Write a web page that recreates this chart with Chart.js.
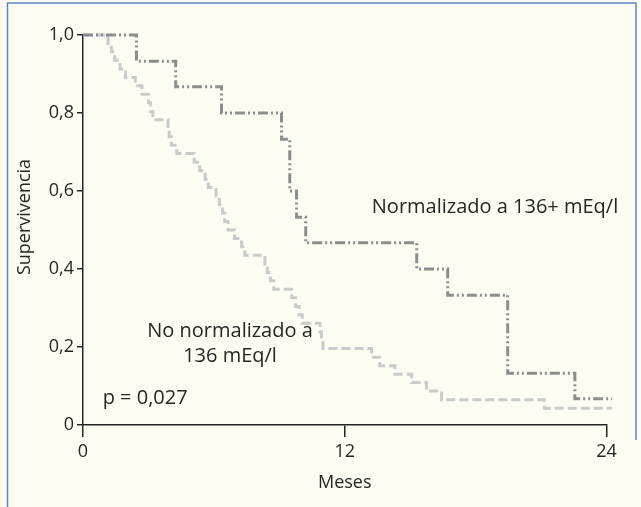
<!DOCTYPE html>
<html lang="es">
<head>
  <meta charset="UTF-8" />
  <title>Supervivencia</title>
  <script src="https://cdn.jsdelivr.net/npm/chart.js"></script>
  <style>
    body { margin: 0; background: #fcfcf3; }
    canvas { display: block; }
  </style>
</head>
<body>
  <canvas id="km" width="641" height="507"></canvas>

  <script>
    // Meses / supervivencia (Kaplan-Meier)
    const normT = [0, 2.45, 4.25, 6.35, 9.1, 9.48, 9.79, 10.21, 15.3, 16.72, 19.47, 22.55, 24.25];
    const normS = [1, 0.933, 0.867, 0.8, 0.733, 0.6, 0.533, 0.467, 0.4, 0.333, 0.133, 0.067, 0.067];

    const noNormT = [0, 1.15, 1.3, 1.45, 1.7, 1.95, 2.4, 2.7, 3.0, 3.1, 3.2, 3.9, 3.95, 4.05, 4.3, 5.1,
      5.35, 5.6, 5.75, 6.1, 6.25, 6.4, 6.5, 6.65, 6.95, 7.27, 7.42, 8.34, 8.45, 8.6, 8.75, 9.57, 9.75,
      9.9, 10.05, 10.86, 10.93, 11.0, 13.23, 13.6, 14.3, 15.07, 15.75, 16.44, 21.15, 24.25];
    const noNormS = [1, 0.978, 0.957, 0.935, 0.913, 0.891, 0.870, 0.848, 0.826, 0.804, 0.783, 0.761,
      0.739, 0.717, 0.696, 0.674, 0.652, 0.630, 0.609, 0.587, 0.565, 0.543, 0.522, 0.500, 0.478, 0.457,
      0.435, 0.413, 0.391, 0.370, 0.348, 0.326, 0.304, 0.283, 0.261, 0.239, 0.217, 0.196, 0.174, 0.152,
      0.130, 0.109, 0.087, 0.065, 0.043, 0.043];

    const xTicks = [0, 12, 24];
    const yTicks = [0, 0.2, 0.4, 0.6, 0.8, 1.0];

    const FONT = "'Open Sans', sans-serif";
    const INK = '#262626';

    const toPoints = (t, s) => t.map((x, i) => ({ x: x, y: s[i] }));

    // textos dentro del gráfico (posición en unidades de los ejes)
    const notas = [
      { text: 'Normalizado a 136+ mEq/l', x: 13.24, y: 0.559, align: 'left' },
      { text: 'No normalizado a', x: 6.74, y: 0.239, align: 'center' },
      { text: '136 mEq/l', x: 6.74, y: 0.175, align: 'center' },
      { text: 'p = 0,027', x: 0.9, y: 0.068, align: 'left' }
    ];

    const decorado = {
      id: 'decorado',
      beforeDraw(chart) {
        const c = chart.ctx;
        c.save();
        c.fillStyle = '#fcfcf3';
        c.fillRect(0, 0, chart.width, chart.height);
        c.strokeStyle = '#5b86c4';
        c.lineWidth = 1.5;
        c.beginPath();
        c.moveTo(7.5, chart.height);
        c.lineTo(7.5, 3);
        c.lineTo(636, 3);
        c.lineTo(636, 440);
        c.stroke();
        c.restore();
      },
      afterDraw(chart) {
        const c = chart.ctx;
        const xs = chart.scales.x, ys = chart.scales.y;
        c.save();
        c.fillStyle = INK;
        c.font = '20px ' + FONT;
        c.textBaseline = 'middle';
        notas.forEach(n => {
          c.textAlign = n.align;
          c.fillText(n.text, xs.getPixelForValue(n.x), ys.getPixelForValue(n.y));
        });
        c.translate(25, 217);
        c.rotate(-Math.PI / 2);
        c.textAlign = 'center';
        c.font = '18px ' + FONT;
        c.fillText('Supervivencia', 0, 0);
        c.restore();
      }
    };

    new Chart(document.getElementById('km'), {
      type: 'line',
      data: {
        datasets: [
          {
            label: 'Normalizado a 136+ mEq/l',
            data: toPoints(normT, normS),
            stepped: true,
            borderColor: '#8d8d8d',
            borderWidth: 3,
            borderDash: [10, 3, 2, 3, 2, 3],
            pointRadius: 0,
            fill: false
          },
          {
            label: 'No normalizado a 136 mEq/l',
            data: toPoints(noNormT, noNormS),
            stepped: true,
            borderColor: '#cacaca',
            borderWidth: 3,
            borderDash: [9, 4],
            pointRadius: 0,
            fill: false
          }
        ]
      },
      options: {
        responsive: false,
        animation: false,
        clip: false,
        layout: { padding: { top: 35, right: 34.5, left: 0, bottom: 0 } },
        plugins: {
          legend: { display: false },
          tooltip: { enabled: false }
        },
        scales: {
          x: {
            type: 'linear',
            min: 0,
            max: 24,
            afterBuildTicks: s => { s.ticks = xTicks.map(v => ({ value: v })); },
            afterFit: s => { s.height = 82; },
            ticks: { color: INK, font: { family: FONT, size: 18 }, padding: 4, maxRotation: 0 },
            grid: { drawOnChartArea: false, tickLength: 12, color: INK, lineWidth: 1.5 },
            border: { color: INK, width: 1.5 },
            title: { display: true, text: 'Meses', color: INK, font: { family: FONT, size: 18 }, padding: { top: 0, bottom: 13 } }
          },
          y: {
            min: 0,
            max: 1,
            afterBuildTicks: s => { s.ticks = yTicks.map(v => ({ value: v })); },
            afterFit: s => { s.width = 83; },
            ticks: {
              color: INK,
              font: { family: FONT, size: 18 },
              padding: 3,
              callback: v => v === 0 ? '0' : v.toFixed(1).replace('.', ',')
            },
            grid: { drawOnChartArea: false, tickLength: 6, color: INK, lineWidth: 1.5 },
            border: { color: INK, width: 1.5 }
          }
        }
      },
      plugins: [decorado]
    });
  </script>
</body>
</html>
